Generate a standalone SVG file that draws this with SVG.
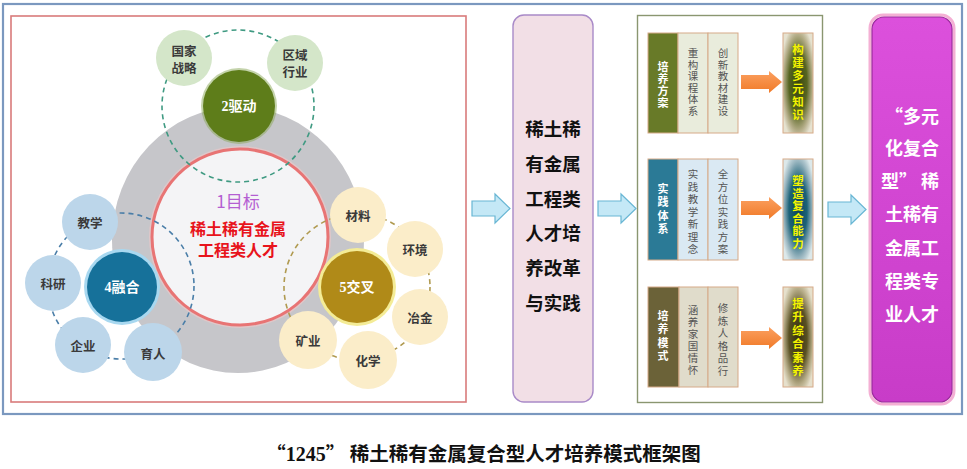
<svg xmlns="http://www.w3.org/2000/svg" width="967" height="469" viewBox="0 0 967 469">
<defs>
<style>
.cjk{font-family:"Noto Sans CJK SC","Liberation Sans",sans-serif;}
.sat{font-family:"Noto Sans CJK SC",sans-serif;font-size:12.5px;font-weight:700;fill:#3a3a3a;text-anchor:middle;dominant-baseline:central;}
.hub{font-family:"Liberation Serif","Noto Sans CJK SC",serif;font-size:14px;font-weight:700;fill:#ffffff;text-anchor:middle;dominant-baseline:central;}
.vt{font-family:"Noto Sans CJK SC",sans-serif;font-size:10.5px;fill:#555;text-anchor:middle;dominant-baseline:central;}
.vl{font-family:"Noto Sans CJK SC",sans-serif;font-size:11px;font-weight:700;fill:#ffffff;text-anchor:middle;dominant-baseline:central;}
.vr{font-family:"Noto Sans CJK SC",sans-serif;font-size:11.5px;font-weight:700;fill:#f4f400;text-anchor:middle;dominant-baseline:central;}
.big{font-family:"Noto Sans CJK SC",sans-serif;font-size:18.5px;font-weight:700;fill:#111;text-anchor:middle;dominant-baseline:central;}
.mag{font-family:"Noto Sans CJK SC",sans-serif;font-size:18px;font-weight:700;fill:#ffffff;text-anchor:end;dominant-baseline:central;}
.cell{stroke:#d6aa88;stroke-width:1;}
.satG{fill:#d4e6c9;}
.satB{fill:#bcd6ea;}
.satY{fill:#fbedc9;}
.bluearrow{fill:#c4e8f6;stroke:#68b6d4;stroke-width:1.2;}
.orarrow{fill:url(#org);}
</style>
<radialGradient id="g1" cx="0.5" cy="0.5" r="0.6">
<stop offset="0" stop-color="#38460e"/><stop offset="0.5" stop-color="#566420"/><stop offset="0.8" stop-color="#b4ad88"/><stop offset="1" stop-color="#e6e2d0"/>
</radialGradient>
<radialGradient id="g2" cx="0.5" cy="0.5" r="0.6">
<stop offset="0" stop-color="#0c4458"/><stop offset="0.5" stop-color="#1c6278"/><stop offset="0.8" stop-color="#9ab6c0"/><stop offset="1" stop-color="#dce8ea"/>
</radialGradient>
<radialGradient id="g3" cx="0.5" cy="0.5" r="0.6">
<stop offset="0" stop-color="#383210"/><stop offset="0.5" stop-color="#585022"/><stop offset="0.8" stop-color="#b6ac88"/><stop offset="1" stop-color="#e6e0cc"/>
</radialGradient>
<linearGradient id="org" x1="0" y1="0" x2="0" y2="1">
<stop offset="0" stop-color="#fba060"/><stop offset="1" stop-color="#f07a28"/>
</linearGradient>
<linearGradient id="magg" x1="0" y1="0" x2="0" y2="1">
<stop offset="0" stop-color="#dc50dc"/><stop offset="1" stop-color="#c83cc8"/>
</linearGradient>
</defs>

<rect width="967" height="469" fill="#ffffff"/>
<g id="frames">
<rect x="3" y="4" width="959" height="410" fill="none" stroke="#7b98bf" stroke-width="2.2"/>
<rect x="11" y="16" width="455" height="386" fill="none" stroke="#d97b7b" stroke-width="1.6"/>
<rect x="637.5" y="15.5" width="185" height="387" fill="none" stroke="#8a9670" stroke-width="1.4"/>
</g>

<g id="ring">
<ellipse cx="238" cy="240" rx="126" ry="133" fill="#c6c6ca"/>
</g>

<g id="goal">
<circle cx="240" cy="237" r="91" fill="#f0c8c8" opacity="0.6"/>
<circle cx="240" cy="237" r="88" fill="#f4f4f6" stroke="#e87474" stroke-width="3"/>
<text x="238" y="200" class="cjk" font-size="17" fill="#b45ed2" text-anchor="middle" dominant-baseline="central">1目标</text>
<text x="238" y="228" class="cjk" font-size="16" font-weight="700" fill="#e8141c" text-anchor="middle" dominant-baseline="central">稀土稀有金属</text>
<text x="238" y="249" class="cjk" font-size="16" font-weight="700" fill="#e8141c" text-anchor="middle" dominant-baseline="central">工程类人才</text>
</g>

<g id="dashed-rings" fill="none" stroke-width="1.6" stroke-dasharray="5 4">
<circle cx="238" cy="106" r="76" stroke="#3f9a82"/>
<circle cx="121" cy="286" r="73" stroke="#4a7ea8"/>
<circle cx="357" cy="287" r="73" stroke="#b09a50"/>
</g>

<g id="drive">
<circle cx="184" cy="58" r="28" class="satG"/>
<text class="sat" x="184" y="50">国家</text><text class="sat" x="184" y="67">战略</text>
<circle cx="295" cy="63" r="28" class="satG"/>
<text class="sat" x="295" y="54">区域</text><text class="sat" x="295" y="71">行业</text>
<circle cx="239" cy="106" r="38" fill="#8aa858" opacity="0.5"/>
<circle cx="239" cy="106" r="36" fill="#5e7d1a"/>
<text class="hub" x="239" y="106">2驱动</text>
</g>

<g id="fusion">
<circle cx="90" cy="222" r="28" class="satB"/><text class="sat" x="90" y="222">教学</text>
<circle cx="53" cy="283" r="28" class="satB"/><text class="sat" x="53" y="283">科研</text>
<circle cx="83" cy="345" r="28" class="satB"/><text class="sat" x="83" y="345">企业</text>
<circle cx="153" cy="352" r="29" class="satB"/><text class="sat" x="153" y="353">育人</text>
<circle cx="122" cy="287" r="38" fill="#a8d8f0"/>
<circle cx="122" cy="287" r="35" fill="#16719a"/>
<text class="hub" x="122" y="287">4融合</text>
</g>

<g id="cross">
<circle cx="358" cy="215" r="28" class="satY"/><text class="sat" x="358" y="215">材料</text>
<circle cx="415" cy="249" r="28" class="satY"/><text class="sat" x="415" y="249">环境</text>
<circle cx="420" cy="317" r="28" class="satY"/><text class="sat" x="420" y="317">冶金</text>
<circle cx="368" cy="360" r="29" class="satY"/><text class="sat" x="368" y="360">化学</text>
<circle cx="308" cy="340" r="29" class="satY"/><text class="sat" x="308" y="340">矿业</text>
<circle cx="357" cy="287" r="39" fill="#f4ec96"/>
<circle cx="357" cy="287" r="36" fill="#b08a18"/>
<text class="hub" x="357" y="287">5交叉</text>
</g>

<g id="reform">
<rect x="513" y="15" width="80" height="387" rx="11" fill="#f2dfe6" stroke="#a98ac8" stroke-width="1.4"/>
<text class="big" x="553" y="128">稀土稀</text>
<text class="big" x="553" y="163">有金属</text>
<text class="big" x="553" y="198">工程类</text>
<text class="big" x="553" y="232">人才培</text>
<text class="big" x="553" y="267">养改革</text>
<text class="big" x="553" y="302">与实践</text>
</g>

<g id="row1">
<rect x="648" y="33" width="30" height="100" fill="#687a28" class="cell"/>
<rect x="678" y="33" width="30" height="100" fill="#e9ecdc" class="cell"/>
<rect x="708" y="33" width="30" height="100" fill="#e9ecdc" class="cell"/>
<text class="vl"><tspan x="663" y="66">培</tspan><tspan x="663" y="78">养</tspan><tspan x="663" y="90">方</tspan><tspan x="663" y="102">案</tspan></text>
<text class="vt"><tspan x="693" y="52">重</tspan><tspan x="693" y="63.5">构</tspan><tspan x="693" y="75">课</tspan><tspan x="693" y="86.5">程</tspan><tspan x="693" y="98">体</tspan><tspan x="693" y="109.5">系</tspan></text>
<text class="vt"><tspan x="723" y="52">创</tspan><tspan x="723" y="63.5">新</tspan><tspan x="723" y="75">教</tspan><tspan x="723" y="86.5">材</tspan><tspan x="723" y="98">建</tspan><tspan x="723" y="109.5">设</tspan></text>
</g>
<g id="result1">
<rect x="783" y="33" width="30" height="100" fill="url(#g1)" class="cell"/>
<text class="vr"><tspan x="798" y="49">构</tspan><tspan x="798" y="62">建</tspan><tspan x="798" y="75">多</tspan><tspan x="798" y="88">元</tspan><tspan x="798" y="101">知</tspan><tspan x="798" y="114">识</tspan></text>
</g>

<g id="row2">
<rect x="648" y="159" width="30" height="101" fill="#2b7a96" class="cell"/>
<rect x="678" y="159" width="30" height="101" fill="#dae9f3" class="cell"/>
<rect x="708" y="159" width="30" height="101" fill="#dae9f3" class="cell"/>
<text class="vl"><tspan x="663" y="188">实</tspan><tspan x="663" y="201.3">践</tspan><tspan x="663" y="214.6">体</tspan><tspan x="663" y="228">系</tspan></text>
<text class="vt"><tspan x="693" y="173">实</tspan><tspan x="693" y="185.5">践</tspan><tspan x="693" y="198">教</tspan><tspan x="693" y="210.5">学</tspan><tspan x="693" y="223">新</tspan><tspan x="693" y="235.5">理</tspan><tspan x="693" y="248">念</tspan></text>
<text class="vt"><tspan x="723" y="173">全</tspan><tspan x="723" y="185.5">方</tspan><tspan x="723" y="198">位</tspan><tspan x="723" y="210.5">实</tspan><tspan x="723" y="223">践</tspan><tspan x="723" y="235.5">方</tspan><tspan x="723" y="248">案</tspan></text>
</g>
<g id="result2">
<rect x="783" y="159" width="30" height="101" fill="url(#g2)" class="cell"/>
<text class="vr"><tspan x="798" y="180">塑</tspan><tspan x="798" y="192.5">造</tspan><tspan x="798" y="205">复</tspan><tspan x="798" y="217.5">合</tspan><tspan x="798" y="230">能</tspan><tspan x="798" y="242.5">力</tspan></text>
</g>

<g id="row3">
<rect x="648" y="287" width="31" height="100" fill="#6b6238" class="cell"/>
<rect x="679" y="287" width="29" height="100" fill="#e0dccb" class="cell"/>
<rect x="708" y="287" width="30" height="100" fill="#e0dccb" class="cell"/>
<text class="vl"><tspan x="663" y="315">培</tspan><tspan x="663" y="328.3">养</tspan><tspan x="663" y="341.6">模</tspan><tspan x="663" y="355">式</tspan></text>
<text class="vt"><tspan x="693" y="309">涵</tspan><tspan x="693" y="321">养</tspan><tspan x="693" y="333">家</tspan><tspan x="693" y="345">国</tspan><tspan x="693" y="357">情</tspan><tspan x="693" y="369">怀</tspan></text>
<text class="vt"><tspan x="723" y="307">修</tspan><tspan x="723" y="319.6">炼</tspan><tspan x="723" y="332.2">人</tspan><tspan x="723" y="344.8">格</tspan><tspan x="723" y="357.4">品</tspan><tspan x="723" y="370">行</tspan></text>
</g>
<g id="result3">
<rect x="783" y="287" width="30" height="100" fill="url(#g3)" class="cell"/>
<text class="vr"><tspan x="798" y="303">提</tspan><tspan x="798" y="316.4">升</tspan><tspan x="798" y="329.8">综</tspan><tspan x="798" y="343.2">合</tspan><tspan x="798" y="356.6">素</tspan><tspan x="798" y="370">养</tspan></text>
</g>

<g id="outcome">
<rect x="870" y="15" width="84" height="389" rx="13" fill="none" stroke="#f4b0d4" stroke-width="3"/>
<rect x="872" y="17" width="80" height="385" rx="12" fill="url(#magg)" stroke="#9c2a9c" stroke-width="1.2"/>
<text class="mag" x="939" y="115">“多元</text>
<text class="mag" x="939" y="147">化复合</text>
<text class="mag" x="939" y="180">型” 稀</text>
<text class="mag" x="939" y="213">土稀有</text>
<text class="mag" x="939" y="247">金属工</text>
<text class="mag" x="939" y="280">程类专</text>
<text class="mag" x="939" y="313">业人才</text>
</g>

<g id="connectors">
<path class="bluearrow" d="M472,201 H495 V194 L510,208.5 L495,223 V216 H472 Z"/>
<path class="bluearrow" d="M598,201 H621 V194 L636,208.5 L621,223 V216 H598 Z"/>
<path class="bluearrow" d="M828,202 H851 V195 L866,209.5 L851,224 V217 H828 Z"/>
<path class="orarrow" d="M741,75 H769 V71 L782,82 L769,93 V89 H741 Z"/>
<path class="orarrow" d="M741,201 H769 V197 L782,208 L769,219 V215 H741 Z"/>
<path class="orarrow" d="M741,331 H769 V327 L782,338 L769,349 V345 H741 Z"/>
</g>

<g id="caption">
<text x="483.5" y="461" font-family="'Noto Sans CJK SC',sans-serif" font-size="19.5" font-weight="700" fill="#111" text-anchor="middle">“<tspan font-family="'Liberation Serif',serif" font-size="20">1245</tspan>” 稀土稀有金属复合型人才培养模式框架图</text>
</g>
</svg>
